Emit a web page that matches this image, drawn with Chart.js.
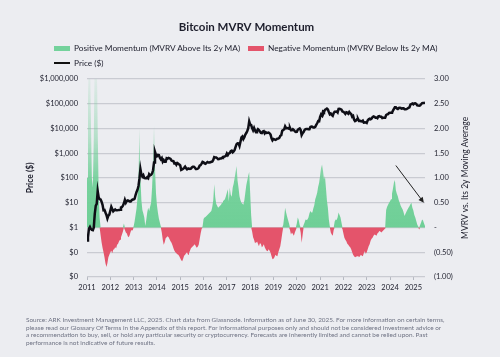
<!DOCTYPE html>
<html><head><meta charset="utf-8">
<script src="https://cdn.jsdelivr.net/npm/chart.js@4.4.1/dist/chart.umd.min.js"></script>
<style>
html,body{margin:0;padding:0;background:#ecedf1;}
#wrap{position:relative;width:500px;height:357px;overflow:hidden;background:#ecedf1;font-family:Lato,"Open Sans",sans-serif;}
canvas{position:absolute;left:0;top:0;}
.leg{position:absolute;font-size:8.3px;color:#1d1e2c;white-space:nowrap;line-height:10px;}
.sw{position:absolute;}
#note{position:absolute;left:26px;top:316px;width:472px;font-size:6.4px;line-height:7.7px;color:#6e7283;white-space:nowrap;}
</style></head>
<body><div id="wrap"><canvas id="c" width="500" height="357"></canvas>
<div class="sw" style="left:54px;top:46px;width:16px;height:5px;background:#74d29c"></div>
<div class="leg" style="left:74px;top:43px">Positive Momentum (MVRV Above Its 2y MA)</div>
<div class="sw" style="left:248px;top:46px;width:16px;height:5px;background:#e4546b"></div>
<div class="leg" style="left:268px;top:43px">Negative Momentum (MVRV Below Its 2y MA)</div>
<div class="sw" style="left:54px;top:62px;width:16px;height:2px;background:#111"></div>
<div class="leg" style="left:74px;top:58px">Price ($)</div>
<div id="note">Source: ARK Investment Management LLC, 2025. Chart data from Glassnode. Information as of June 30, 2025. For more information on certain terms,<br>please read our Glossary Of Terms in the Appendix of this report. For informational purposes only and should not be considered investment advice or<br>a recommendation to buy, sell, or hold any particular security or cryptocurrency. Forecasts are inherently limited and cannot be relied upon. Past<br>performance is not indicative of future results.</div>
</div>
<script>
// Half-monthly samples starting 2011.0, 24 per year, through mid-2025
const startYear = 2011;
const stepsPerYear = 24;

const price = [
// 2011
0.3,0.4,0.9,1.05,0.86,0.8,0.78,1.0,3.5,7.5,9,29,16.5,14,13.4,11,8.2,5.0,5.1,4.0,3.2,2.3,3.0,3.3,4.7,
// 2012
6.8,5.5,4.5,4.9,5.3,4.9,4.9,5.0,5.1,5.2,6.4,6.7,7.6,9.4,13.0,10.0,11.8,12.4,11.8,11.2,11.2,12.6,13.5,13.5,
// 2013
14.3,20.4,27,33.4,47,93,230,139,114,129,100,97,97,106,98,141,126,133,150,204,420,1130,850,750,
// 2014
850,830,650,560,630,450,520,445,445,625,600,640,620,585,500,480,475,385,395,340,400,375,345,320,
// 2015
210,220,235,255,285,245,220,235,237,230,236,263,285,285,260,230,230,236,255,312,330,377,445,430,
// 2016
385,370,405,437,415,416,428,448,455,531,690,673,665,624,570,575,608,609,640,700,710,742,780,963,
// 2017
830,970,1010,1190,1250,1080,1180,1350,1800,2300,2500,2480,1950,2875,4300,4700,3700,4340,5650,6470,7800,10200,19000,14100,
// 2018
13600,10200,8300,10400,8200,6900,8000,9200,8500,7500,6500,6400,7400,7700,6300,7000,6500,6600,6750,6300,5600,4000,3300,3700,
// 2019
3600,3450,3600,3850,3900,4100,5000,5300,8000,8600,9000,12000,10200,10100,10300,9600,10300,8300,8300,9200,8500,7550,7100,7200,
// 2020
8800,9350,9900,8600,5400,6400,7100,8600,9300,9450,9400,9140,9200,11300,11800,11650,10800,10800,11500,13800,16000,19700,19400,29000,
// 2021
36800,33100,48000,45200,56000,58800,63000,57700,46000,37300,40000,35000,32000,41500,47000,47100,48000,43800,61000,61300,60000,57000,48000,46300,
// 2022
43000,38500,44500,43200,39000,45500,40500,37700,29500,31800,22500,19800,20800,23300,24200,20100,20200,19400,19200,20500,16900,17200,17400,16500,
// 2023
20900,23100,24300,23100,24700,28500,30400,29200,27000,27200,25600,30500,31300,29200,29400,26000,26600,27000,27000,34600,36500,37700,42000,42300,
// 2024
42500,42600,52000,61200,71000,71300,63500,60600,66200,67500,66000,62700,64800,64600,58700,58900,60500,63300,67000,70200,90500,96400,101000,93400,
// 2025
100500,102400,97500,84400,83000,82500,84500,94200,103500,104600,105000,107100
];

const momentum = [
1.0,2.6,3.5,3.5,2.2,1.0,0.8,1.8,3.5,3.5,3.5,2.0,0.7,0.2,
-0.15,-0.3,-0.41,-0.5,-0.6,-0.72,-0.8,-0.72,-0.6,-0.55,-0.5,-0.47,-0.52,-0.45,-0.44,-0.4,-0.42,-0.35,-0.33,-0.28,-0.25,-0.2,-0.14,-0.08,0.08,-0.05,-0.1,-0.12,-0.18,-0.2,-0.15,-0.08,-0.05,-0.06,0.02,
0.12,0.25,0.38,0.6,1.0,2.0,1.0,0.55,0.35,0.28,0.2,0.03,0.15,0.3,0.4,0.33,0.42,0.5,0.8,1.3,2.05,1.2,0.7,0.45,0.3,0.18,0.1,0.02,
-0.1,-0.25,-0.35,-0.3,-0.22,-0.2,-0.18,-0.2,-0.24,-0.28,
-0.31,-0.36,-0.42,-0.47,-0.5,-0.52,-0.54,-0.55,-0.58,-0.62,
-0.66,-0.68,-0.63,-0.57,-0.55,-0.52,-0.5,-0.55,-0.52,-0.47,
-0.42,-0.4,-0.38,-0.36,-0.34,-0.38,-0.41,-0.39,-0.35,-0.24,
-0.12,-0.03,
0.02,0.17,0.2,0.21,0.23,0.25,0.27,0.29,0.31,0.33,
0.42,0.55,0.87,0.62,0.48,0.44,0.4,0.42,0.44,0.46,
0.5,0.53,0.55,0.57,0.63,0.7,0.77,0.52,0.8,0.66,
0.62,0.8,0.88,1.0,1.12,1.24,0.95,0.8,0.63,0.55,
0.5,0.48,0.46,0.55,0.7,0.85,0.95,1.05,1.12,0.7,
0.25,-0.08,
-0.2,-0.25,-0.32,-0.3,-0.28,-0.33,-0.38,-0.32,-0.33,-0.4,
-0.38,-0.34,-0.4,-0.44,-0.47,-0.48,-0.44,-0.47,-0.51,-0.58,
-0.64,-0.63,-0.6,-0.55,-0.57,-0.58,-0.5,-0.44,-0.38,-0.26,
-0.12,0.05,0.2,0.4,0.3,0.22,0.15,0.08,-0.05,-0.14,
-0.1,-0.13,-0.17,-0.1,-0.05,0.08,0.2,0.15,0.05,-0.1,
-0.31,-0.15,0.05,0.1,0.16,0.15,0.16,0.2,0.28,0.33,
0.3,0.3,0.38,0.45,0.57,0.63,0.7,0.82,0.9,1.05,
1.2,1.27,1.14,0.97,1.04,0.8,0.55,0.4,0.16,0.02,
-0.1,-0.14,-0.17,-0.05,0.12,0.16,0.15,
0.2,0.3,0.25,0.2,0.1,-0.03,-0.12,-0.21,-0.25,-0.28,
-0.33,-0.35,-0.38,-0.4,-0.44,-0.5,-0.55,-0.58,-0.6,-0.59,
-0.58,-0.57,-0.6,-0.58,-0.55,-0.57,-0.58,-0.52,-0.48,-0.53,
-0.5,-0.44,-0.38,-0.34,-0.27,-0.23,-0.21,-0.17,-0.14,-0.15,
-0.17,-0.12,-0.1,-0.07,-0.08,-0.1,-0.08,-0.06,-0.04,-0.02,
0.35,0.42,0.46,0.5,0.53,0.57,0.68,0.78,0.9,0.96,
0.75,0.68,0.63,0.55,0.5,0.44,0.4,0.36,0.3,0.23,
0.28,0.32,0.36,0.4,0.43,0.47,0.5,0.4,0.34,0.25,
0.2,0.13,0.06,0.02,-0.04,0.05,0.1,0.16,0.14,0.08,
0.03
];

const yearTicks = [2011,2012,2013,2014,2015,2016,2017,2018,2019,2020,2021,2022,2023,2024,2025];
const priceTicks = [0.01,0.1,1,10,100,1000,10000,100000,1000000];
const priceTickLabels = ['$0','$0','$1','$10','$100','$1,000','$10,000','$100,000','$1,000,000'];
const mvrvTicks = [-1,-0.5,0,0.5,1,1.5,2,2.5,3];
const mvrvTickLabels = ['(1.00)','(0.50)','-','0.50','1.00','1.50','2.00','2.50','3.00'];
const arrowFrom = [2024.25, 1.25];
const arrowTo = [2025.45, 0.5];

const FONT = 'Lato, "Open Sans", sans-serif';
const TXT = '#1d1e2c';
const GRID = '#c9cbd2';

const xOf = i => startYear + i / stepsPerYear;
const priceData = price.map((v, i) => ({x: xOf(i), y: v}));
const posData = momentum.map((v, i) => ({x: xOf(i), y: Math.max(v, 0)}));
const negData = momentum.map((v, i) => ({x: xOf(i), y: Math.min(v, 0)}));

function greenFill(ctx) {
  const ch = ctx.chart;
  if (!ch.chartArea || !ch.scales.y1) return 'rgba(111,207,151,1)';
  const s = ch.scales.y1;
  const g = ch.ctx.createLinearGradient(0, s.getPixelForValue(0), 0, s.getPixelForValue(3));
  g.addColorStop(0, 'rgba(111,207,151,1)');
  g.addColorStop(0.3, 'rgba(111,207,151,0.95)');
  g.addColorStop(0.6, 'rgba(111,207,151,0.45)');
  g.addColorStop(1, 'rgba(111,207,151,0.1)');
  return g;
}

const extras = {
  id: 'extras',
  afterDatasetsDraw(chart) {
    const c = chart.ctx, x = chart.scales.x, y = chart.scales.y1;
    const x1 = x.getPixelForValue(arrowFrom[0]), y1 = y.getPixelForValue(arrowFrom[1]);
    const x2 = x.getPixelForValue(arrowTo[0]), y2 = y.getPixelForValue(arrowTo[1]);
    const ang = Math.atan2(y2 - y1, x2 - x1);
    c.save();
    c.strokeStyle = '#222'; c.fillStyle = '#222'; c.lineWidth = 1;
    c.beginPath(); c.moveTo(x1, y1); c.lineTo(x2 - 4 * Math.cos(ang), y2 - 4 * Math.sin(ang)); c.stroke();
    c.beginPath();
    c.moveTo(x2, y2);
    c.lineTo(x2 - 6 * Math.cos(ang - 0.45), y2 - 6 * Math.sin(ang - 0.45));
    c.lineTo(x2 - 6 * Math.cos(ang + 0.45), y2 - 6 * Math.sin(ang + 0.45));
    c.closePath(); c.fill();
    c.restore();
  },
  afterDraw(chart) {
    const c = chart.ctx, a = chart.chartArea, s = chart.scales.y1;
    c.save();
    c.translate(s.right - 6.5, (a.top + a.bottom) / 2);
    c.rotate(-Math.PI / 2);
    c.font = '8.5px ' + FONT; c.fillStyle = TXT;
    c.textAlign = 'center'; c.textBaseline = 'middle';
    c.fillText('MVRV vs. Its 2y Moving Average', 0, 0);
    c.restore();
  }
};

new Chart(document.getElementById('c'), {
  type: 'line',
  data: {
    datasets: [
      {label: 'Price ($)', data: priceData, yAxisID: 'y', borderColor: '#0e0e16', borderWidth: 2.5,
       pointRadius: 0, fill: false, tension: 0, order: 0},
      {label: 'Positive Momentum (MVRV Above Its 2y MA)', data: posData, yAxisID: 'y1', borderWidth: 0,
       borderColor: 'rgba(0,0,0,0)', backgroundColor: greenFill, pointRadius: 0, fill: 'origin', tension: 0, order: 1},
      {label: 'Negative Momentum (MVRV Below Its 2y MA)', data: negData, yAxisID: 'y1', borderWidth: 0,
       borderColor: 'rgba(0,0,0,0)', backgroundColor: '#e4546b', pointRadius: 0, fill: 'origin', tension: 0, order: 1}
    ]
  },
  options: {
    responsive: false, animation: false,
    layout: {padding: {left: 21, right: 28, top: 0, bottom: 60}},
    plugins: {
      legend: {display: false},
      tooltip: {enabled: false},
      title: {display: true, text: 'Bitcoin MVRV Momentum', color: TXT,
        font: {family: FONT, size: 11.5, weight: 'bold'}, padding: {top: 20, bottom: 45}}
    },
    scales: {
      x: {type: 'linear', min: 2011, max: 2025.5,
        afterBuildTicks: s => { s.ticks = yearTicks.map(v => ({value: v})); },
        afterFit: s => { s.height = 20; },
        ticks: {callback: v => String(v), color: TXT, font: {family: FONT, size: 7.5}, padding: 3, maxRotation: 0, autoSkip: false},
        grid: {drawOnChartArea: false, tickLength: 3, color: '#b5b8c1'},
        border: {display: false}},
      y: {type: 'logarithmic', position: 'left', min: 0.01, max: 1000000,
        afterBuildTicks: s => { s.ticks = priceTicks.map(v => ({value: v})); },
        afterFit: s => { s.width = 66; },
        ticks: {callback: (v, i) => priceTickLabels[i], color: TXT, font: {family: FONT, size: 7.5}, padding: 9, autoSkip: false},
        grid: {color: GRID, lineWidth: 1.2, drawTicks: false},
        border: {display: false},
        title: {display: true, text: 'Price ($)', color: TXT, font: {family: FONT, size: 8.5, weight: 'bold'}, padding: {top: 4, bottom: 4}}},
      y1: {type: 'linear', position: 'right', min: -1, max: 3,
        afterBuildTicks: s => { s.ticks = mvrvTicks.map(v => ({value: v})); },
        afterFit: s => { s.width = 47; },
        ticks: {callback: (v, i) => mvrvTickLabels[i], color: TXT, font: {family: FONT, size: 7.5}, padding: 9, autoSkip: false},
        grid: {drawOnChartArea: false, drawTicks: false},
        border: {display: false}}
    }
  },
  plugins: [extras]
});
</script>
</body></html>
